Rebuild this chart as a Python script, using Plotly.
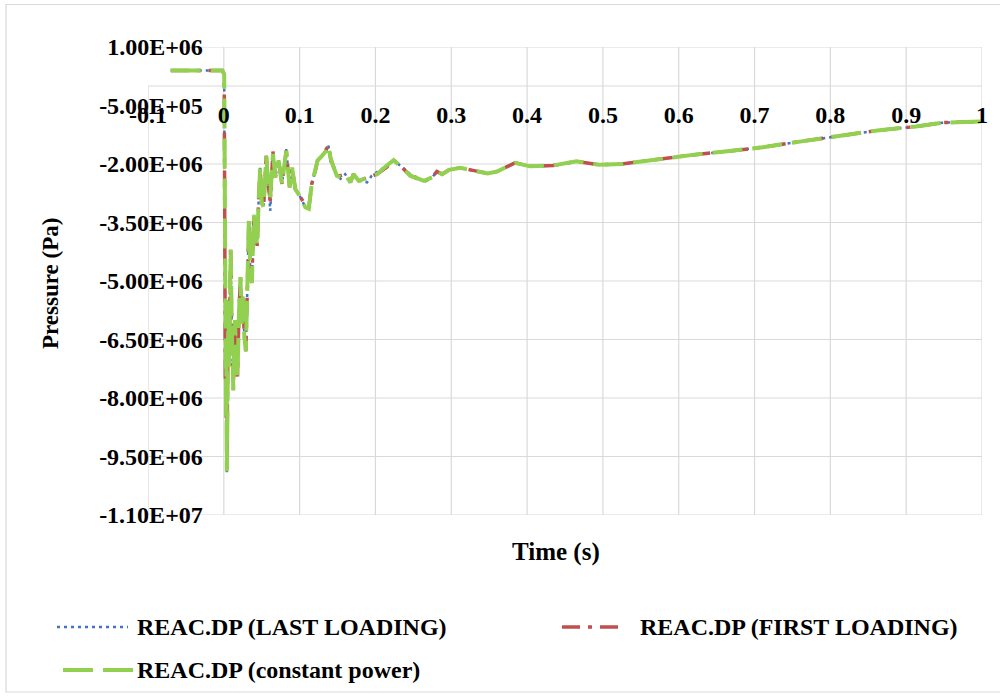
import plotly.graph_objects as go

# Time axis (s) shared by the three REAC.DP runs
time_s = [-0.07, -0.002, 0.0005, 0.001, 0.0015, 0.002, 0.0025, 0.003, 0.0035, 0.004,
          0.005, 0.006, 0.007, 0.008, 0.009, 0.0105, 0.0125, 0.0145, 0.016, 0.018,
          0.020, 0.022, 0.0235, 0.025, 0.027, 0.029, 0.031, 0.033, 0.035, 0.037,
          0.0395, 0.0415, 0.044, 0.046, 0.048, 0.050, 0.0525, 0.056, 0.0585, 0.0613,
          0.0648, 0.068, 0.0723, 0.0767, 0.0824, 0.0868, 0.090, 0.0943, 0.101, 0.1075,
          0.112, 0.116, 0.1207, 0.1237, 0.1295, 0.135, 0.138, 0.141, 0.145, 0.149,
          0.154, 0.160, 0.167, 0.171, 0.178, 0.189, 0.195, 0.202, 0.215, 0.224,
          0.235, 0.246, 0.264, 0.275, 0.281, 0.288, 0.297, 0.312, 0.330, 0.348,
          0.361, 0.384, 0.404, 0.434, 0.465, 0.495, 0.525, 0.560, 0.585, 0.621,
          0.661, 0.711, 0.762, 0.812, 0.862, 0.913, 0.948, 1.0]

# Pressure drop (Pa)
dp_last_loading = [4.0e5, 4.0e5, 3.0e5, -3.0e6, -6.0e6, -7.6e6, -6.2e6, -8.5e6, -7.0e6, -9.93e6,
                   -8.0e6, -5.5e6, -7.2e6, -5.6e6, -4.2e6, -6.2e6, -7.8e6, -6.0e6, -6.6e6, -7.45e6,
                   -6.0e6, -4.9e6, -6.1e6, -5.4e6, -6.4e6, -6.8e6, -5.2e6, -3.45e6, -4.8e6, -5.05e6,
                   -3.3e6, -3.7e6, -4.1e6, -2.9e6, -2.1e6, -3.0e6, -3.1e6, -1.79e6, -2.5e6, -3.2e6,
                   -1.74e6, -2.34e6, -1.91e6, -2.51e6, -1.62e6, -2.60e6, -2.09e6, -2.64e6, -2.85e6, -3.11e6,
                   -3.15e6, -2.51e6, -2.17e6, -1.91e6, -1.79e6, -1.66e6, -1.53e6, -1.95e6, -2.09e6, -2.30e6,
                   -2.38e6, -2.26e6, -2.47e6, -2.26e6, -2.43e6, -2.47e6, -2.30e6, -2.21e6, -2.04e6, -1.90e6,
                   -2.09e6, -2.26e6, -2.43e6, -2.34e6, -2.19e6, -2.26e6, -2.15e6, -2.10e6, -2.17e6, -2.24e6,
                   -2.19e6, -1.97e6, -2.06e6, -2.04e6, -1.93e6, -2.02e6, -2.00e6, -1.91e6, -1.86e6, -1.76e6,
                   -1.68e6, -1.57e6, -1.42e6, -1.28e6, -1.14e6, -1.04e6, -0.94e6, -0.91e6]

dp_first_loading = [4.0e5, 4.0e5, 3.0e5, -3.0e6, -6.0e6, -7.6e6, -6.2e6, -8.5e6, -7.0e6, -9.8e6,
                    -8.0e6, -5.5e6, -7.2e6, -5.6e6, -4.2e6, -6.2e6, -7.8e6, -6.0e6, -6.6e6, -7.45e6,
                    -5.8e6, -4.9e6, -6.1e6, -5.4e6, -6.4e6, -6.8e6, -5.2e6, -3.45e6, -4.8e6, -5.05e6,
                    -3.3e6, -3.6e6, -4.1e6, -2.9e6, -2.1e6, -3.0e6, -3.1e6, -1.79e6, -2.5e6, -2.95e6,
                    -1.68e6, -2.34e6, -1.91e6, -2.51e6, -1.66e6, -2.60e6, -2.09e6, -2.64e6, -2.85e6, -3.05e6,
                    -3.15e6, -2.51e6, -2.17e6, -1.91e6, -1.79e6, -1.60e6, -1.53e6, -1.87e6, -2.09e6, -2.30e6,
                    -2.30e6, -2.26e6, -2.47e6, -2.26e6, -2.43e6, -2.36e6, -2.30e6, -2.26e6, -2.08e6, -1.90e6,
                    -2.09e6, -2.30e6, -2.45e6, -2.34e6, -2.19e6, -2.26e6, -2.15e6, -2.10e6, -2.17e6, -2.24e6,
                    -2.19e6, -1.97e6, -2.06e6, -2.04e6, -1.93e6, -2.02e6, -2.00e6, -1.91e6, -1.86e6, -1.76e6,
                    -1.68e6, -1.57e6, -1.42e6, -1.28e6, -1.14e6, -1.04e6, -0.94e6, -0.91e6]

dp_constant_power = [4.0e5, 4.0e5, 3.0e5, -3.0e6, -6.0e6, -7.6e6, -6.2e6, -8.5e6, -7.0e6, -9.88e6,
                     -8.0e6, -5.5e6, -7.2e6, -5.6e6, -4.2e6, -6.2e6, -7.8e6, -6.0e6, -6.6e6, -7.45e6,
                     -5.8e6, -4.9e6, -6.1e6, -5.4e6, -6.4e6, -6.8e6, -5.2e6, -3.45e6, -4.8e6, -5.05e6,
                     -3.3e6, -3.6e6, -4.1e6, -2.9e6, -2.1e6, -3.0e6, -3.1e6, -1.79e6, -2.5e6, -2.85e6,
                     -1.74e6, -2.34e6, -1.91e6, -2.51e6, -1.66e6, -2.60e6, -2.09e6, -2.64e6, -2.85e6, -3.11e6,
                     -3.15e6, -2.51e6, -2.17e6, -1.91e6, -1.79e6, -1.66e6, -1.53e6, -1.87e6, -2.09e6, -2.30e6,
                     -2.34e6, -2.26e6, -2.47e6, -2.26e6, -2.43e6, -2.34e6, -2.30e6, -2.26e6, -2.04e6, -1.90e6,
                     -2.09e6, -2.30e6, -2.43e6, -2.34e6, -2.19e6, -2.26e6, -2.15e6, -2.10e6, -2.17e6, -2.24e6,
                     -2.19e6, -1.97e6, -2.06e6, -2.04e6, -1.93e6, -2.02e6, -2.00e6, -1.91e6, -1.86e6, -1.76e6,
                     -1.68e6, -1.57e6, -1.42e6, -1.28e6, -1.14e6, -1.04e6, -0.94e6, -0.91e6]

x_ticks = [-0.1, 0.0, 0.1, 0.2, 0.3, 0.4, 0.5, 0.6, 0.7, 0.8, 0.9, 1.0]
x_labels = ["-0.1", "0", "0.1", "0.2", "0.3", "0.4", "0.5", "0.6", "0.7", "0.8", "0.9", "1"]
y_ticks = [1.0e6, -5.0e5, -2.0e6, -3.5e6, -5.0e6, -6.5e6, -8.0e6, -9.5e6, -1.1e7]
y_labels = ["1.00E+06", "-5.00E+05", "-2.00E+06", "-3.50E+06", "-5.00E+06",
            "-6.50E+06", "-8.00E+06", "-9.50E+06", "-1.10E+07"]

series_names = ["REAC.DP (LAST LOADING)", "REAC.DP (FIRST LOADING)", "REAC.DP (constant power)"]
series_colors = ["#4472C4", "#C0504D", "#92D050"]
series_widths = [2.5, 3.5, 4.0]
series_dashes = ["3px,4px", "18px,8px,4px,8px", "30px,10px"]

W, H = 1000, 697
ML, MR, MT, MB = 148, 18, 47, 182
X_MIN, X_MAX = -0.1, 1.0
Y_MIN, Y_MAX = -1.1e7, 1.0e6
GRID = "#D9D9D9"
FONT = "Liberation Serif"


def px_x(px):
    return (px - ML) / (W - ML - MR)


def px_y(py):
    return (H - MB - py) / (H - MT - MB)


fig = go.Figure()
for name, vals, color, width, dash in zip(series_names,
                                          [dp_last_loading, dp_first_loading, dp_constant_power],
                                          series_colors, series_widths, series_dashes):
    fig.add_trace(go.Scatter(x=time_s, y=vals, mode="lines", name=name,
                             line=dict(color=color, width=width, dash=dash),
                             showlegend=False))

shapes = []
# horizontal gridlines (the -5E5 row carries the axis labels and has no line)
for yv in y_ticks:
    if yv == -5.0e5:
        continue
    shapes.append(dict(type="line", xref="x", yref="y", x0=X_MIN, x1=X_MAX, y0=yv, y1=yv,
                       line=dict(color=GRID, width=1.2), layer="below"))
# horizontal axis line at zero pressure
shapes.append(dict(type="line", xref="x", yref="y", x0=X_MIN, x1=X_MAX, y0=0, y1=0,
                   line=dict(color=GRID, width=1.2), layer="below"))
# vertical gridlines
for xv in x_ticks:
    top = 0 if xv == X_MIN else Y_MAX
    shapes.append(dict(type="line", xref="x", yref="y", x0=xv, x1=xv, y0=Y_MIN, y1=top,
                       line=dict(color=GRID, width=1.2), layer="below"))
# chart border
shapes.append(dict(type="rect", xref="paper", yref="paper",
                   x0=px_x(6), x1=px_x(1010), y0=px_y(692), y1=px_y(4.5),
                   line=dict(color=GRID, width=1.2), fillcolor="rgba(0,0,0,0)", layer="below"))

# legend keys
legend_rows = [(57, 128, 627, 135), (562, 625, 627, 638), (63, 133, 670, 135)]
annotations = []
for (lx0, lx1, ly, tx), name, color, width, dash in zip(legend_rows, series_names, series_colors,
                                                        series_widths, series_dashes):
    shapes.append(dict(type="line", xref="paper", yref="paper",
                       x0=px_x(lx0), x1=px_x(lx1), y0=px_y(ly), y1=px_y(ly),
                       line=dict(color=color, width=width, dash=dash)))
    annotations.append(dict(xref="paper", yref="paper", x=px_x(tx), y=px_y(ly),
                            text=name, showarrow=False, xanchor="left", yanchor="middle",
                            font=dict(family=FONT, size=24, color="black", weight="bold")))

# axis titles
annotations.append(dict(xref="paper", yref="paper", x=px_x(50), y=px_y(284),
                        text="Pressure (Pa)", textangle=-90, showarrow=False,
                        xanchor="center", yanchor="middle",
                        font=dict(family=FONT, size=23, color="black", weight="bold")))
annotations.append(dict(xref="paper", yref="paper", x=px_x(556), y=px_y(552),
                        text="Time (s)", showarrow=False,
                        xanchor="center", yanchor="middle",
                        font=dict(family=FONT, size=25, color="black", weight="bold")))

fig.update_layout(
    width=W, height=H,
    margin=dict(l=ML, r=MR, t=MT, b=MB),
    paper_bgcolor="white", plot_bgcolor="white",
    showlegend=False,
    shapes=shapes,
    annotations=annotations,
    xaxis=dict(range=[X_MIN, X_MAX], tickvals=x_ticks, ticktext=x_labels,
               showgrid=False, zeroline=False, showline=False, ticks="",
               anchor="free", position=(0 - Y_MIN) / (Y_MAX - Y_MIN),
               ticklabelstandoff=12,
               tickfont=dict(family=FONT, size=24, color="black", weight="bold")),
    yaxis=dict(range=[Y_MIN, Y_MAX], tickvals=y_ticks, ticktext=y_labels,
               showgrid=False, zeroline=False, showline=False, ticks="",
               anchor="free", position=(0 - X_MIN) / (X_MAX - X_MIN),
               ticklabelstandoff=21,
               tickfont=dict(family=FONT, size=24, color="black", weight="bold")),
)

fig.write_html("out.html")
